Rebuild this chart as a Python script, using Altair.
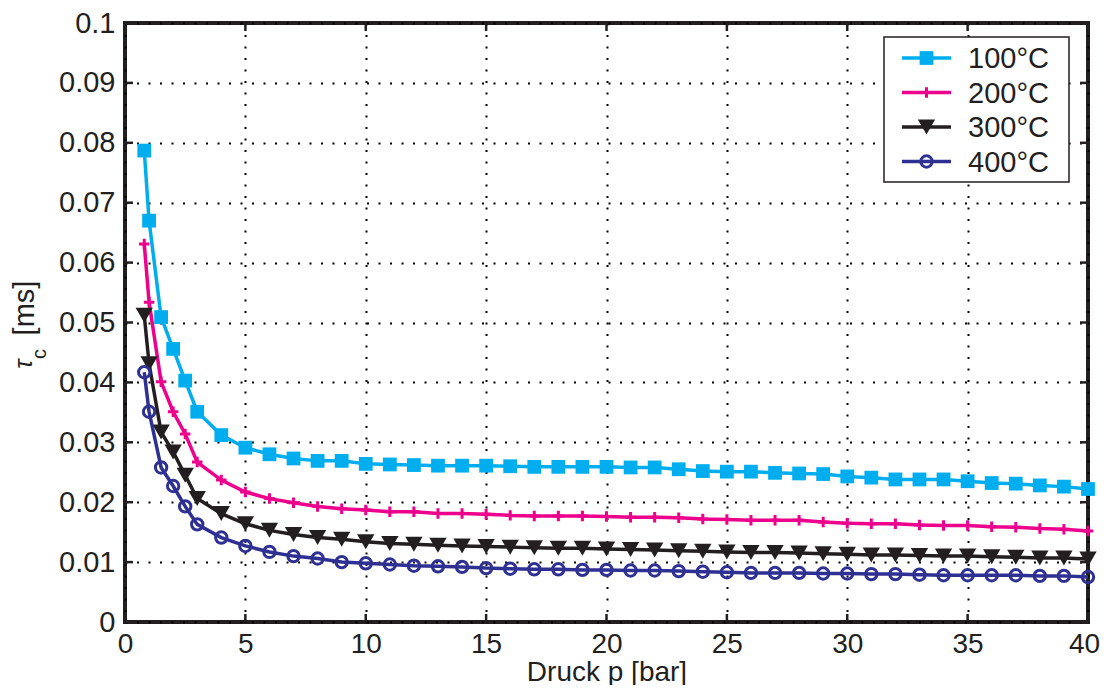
import altair as alt
import pandas as pd

# ---------------- data ----------------
pressure = [0.8, 1, 1.5, 2, 2.5, 3, 4, 5, 6, 7, 8, 9, 10, 11, 12, 13, 14, 15, 16, 17,
            18, 19, 20, 21, 22, 23, 24, 25, 26, 27, 28, 29, 30, 31, 32, 33, 34, 35,
            36, 37, 38, 39, 40]

tau_100 = [0.0787, 0.0670, 0.0509, 0.0456, 0.0403, 0.0351, 0.0312, 0.0291, 0.0280,
           0.0273, 0.0269, 0.0269, 0.0264, 0.0263, 0.0262, 0.0261, 0.0261, 0.0261,
           0.0260, 0.0259, 0.0259, 0.0259, 0.0259, 0.0258, 0.0258, 0.0255, 0.0252,
           0.0251, 0.0251, 0.0249, 0.0248, 0.0247, 0.0243, 0.0241, 0.0238, 0.0238,
           0.0238, 0.0235, 0.0232, 0.0231, 0.0228, 0.0226, 0.0222]

tau_200 = [0.0631, 0.0534, 0.0401, 0.0351, 0.0314, 0.0267, 0.0237, 0.0217, 0.0206,
           0.0199, 0.0193, 0.0189, 0.0187, 0.0184, 0.0184, 0.0181, 0.0181, 0.0180,
           0.0178, 0.0177, 0.0177, 0.0177, 0.0176, 0.0175, 0.0175, 0.0174, 0.0172,
           0.0171, 0.0170, 0.0170, 0.0170, 0.0167, 0.0165, 0.0164, 0.0164, 0.0162,
           0.0161, 0.0161, 0.0159, 0.0158, 0.0156, 0.0155, 0.0152]

tau_300 = [0.0512, 0.0431, 0.0317, 0.0284, 0.0245, 0.0206, 0.0181, 0.0164, 0.0153,
           0.0146, 0.0141, 0.0138, 0.0134, 0.0131, 0.0130, 0.0128, 0.0127, 0.0126,
           0.0125, 0.0124, 0.0123, 0.0123, 0.0122, 0.0121, 0.0120, 0.0119, 0.0118,
           0.0117, 0.0116, 0.0116, 0.0115, 0.0114, 0.0113, 0.0112, 0.0112, 0.0111,
           0.0110, 0.0110, 0.0109, 0.0108, 0.0107, 0.0107, 0.0105]

tau_400 = [0.0417, 0.0351, 0.0258, 0.0227, 0.0193, 0.0163, 0.0141, 0.0127, 0.0117,
           0.0110, 0.0106, 0.0100, 0.0098, 0.0096, 0.0094, 0.0093, 0.0092, 0.0090,
           0.0089, 0.0088, 0.0088, 0.0087, 0.0087, 0.0086, 0.0086, 0.0085, 0.0084,
           0.0083, 0.0082, 0.0082, 0.0082, 0.0081, 0.0081, 0.0080, 0.0080, 0.0079,
           0.0078, 0.0078, 0.0078, 0.0078, 0.0077, 0.0077, 0.0075]

series_labels = ["100°C", "200°C", "300°C", "400°C"]
series_values = [tau_100, tau_200, tau_300, tau_400]

x_ticks = [0, 5, 10, 15, 20, 25, 30, 35, 40]
y_ticks = [0, 0.01, 0.02, 0.03, 0.04, 0.05, 0.06, 0.07, 0.08, 0.09, 0.1]

# ---------------- styles ----------------
W, H = 963, 599
FONT = "Liberation Sans"
INK = "#231F20"
colors = ["#00AEEF", "#EC008C", "#231F20", "#2E3192"]
PLUS = "M-1,0H1M0,-1V1"
marker_styles = [
    dict(shape="square", filled=True, size=190, strokeWidth=1),
    dict(shape=PLUS, filled=False, size=110, strokeWidth=3),
    dict(shape="triangle-down", filled=True, size=300, strokeWidth=1),
    dict(shape="circle", filled=False, size=130, strokeWidth=3),
]

xscale = alt.Scale(domain=[0, 40], nice=False, zero=False)
yscale = alt.Scale(domain=[0, 0.1], nice=False, zero=False)

xaxis = alt.Axis(values=x_ticks, title="Druck p [bar]", grid=True, ticks=False,
                 domain=False, labelFontSize=28, labelPadding=8, titleFontSize=28,
                 titlePadding=0, titleFontWeight="normal", labelColor=INK,
                 titleColor=INK, labelFont=FONT, titleFont=FONT, labelFlush=False,
                 labelOffset={"condition": {"test": "datum.value === 40", "value": -4},
                              "value": 0})
yaxis = alt.Axis(values=y_ticks, format="~g", title=None, grid=True, ticks=False,
                 domain=False, labelFontSize=29, labelPadding=10, labelColor=INK,
                 labelFont=FONT, labelFlush=False)

layers = []
for lab, vals, col, ms in zip(series_labels, series_values, colors, marker_styles):
    d = pd.DataFrame({"p": pressure, "tau": vals, "T": lab})
    base = alt.Chart(d).encode(
        x=alt.X("p:Q", scale=xscale, axis=xaxis),
        y=alt.Y("tau:Q", scale=yscale, axis=yaxis),
    )
    layers.append(base.mark_line(color=col, strokeWidth=3.5))
    layers.append(base.mark_point(color=col, opacity=1, **ms))

# inward tick marks on all four sides
xt = pd.DataFrame({"p": x_ticks})
yt = pd.DataFrame({"tau": y_ticks})
TL = 8
tick_kw = dict(color=INK, strokeWidth=2.5)
layers.append(alt.Chart(xt).mark_rule(**tick_kw).encode(
    x=alt.X("p:Q", scale=xscale, axis=xaxis), y=alt.value(H - TL), y2=alt.value(H)))
layers.append(alt.Chart(xt).mark_rule(**tick_kw).encode(
    x=alt.X("p:Q", scale=xscale, axis=xaxis), y=alt.value(0), y2=alt.value(TL)))
layers.append(alt.Chart(yt).mark_rule(**tick_kw).encode(
    y=alt.Y("tau:Q", scale=yscale, axis=yaxis), x=alt.value(0), x2=alt.value(TL)))
layers.append(alt.Chart(yt).mark_rule(**tick_kw).encode(
    y=alt.Y("tau:Q", scale=yscale, axis=yaxis), x=alt.value(W - TL), x2=alt.value(W)))

one = pd.DataFrame({"a": [0]})

# y-axis title: tau with subscript c
layers.append(alt.Chart(one).mark_text(angle=270, fontSize=25, font=FONT, fontStyle="italic",
                                       align="center", baseline="alphabetic", color=INK).encode(
    x=alt.value(-93), y=alt.value(341), text=alt.value("τ")))
layers.append(alt.Chart(one).mark_text(angle=270, fontSize=20, font=FONT,
                                       align="center", baseline="alphabetic", color=INK).encode(
    x=alt.value(-79), y=alt.value(331), text=alt.value("c")))
layers.append(alt.Chart(one).mark_text(angle=270, fontSize=29, font=FONT,
                                       align="center", baseline="alphabetic", color=INK).encode(
    x=alt.value(-91), y=alt.value(285), text=alt.value("[ms]")))

# legend box
layers.append(alt.Chart(one).mark_rect(fill="white", stroke=INK, strokeWidth=1.5).encode(
    x=alt.value(759), x2=alt.value(944), y=alt.value(14), y2=alt.value(159)))
row_y = [35, 69.5, 104, 138.5]
for lab, col, ms, ry in zip(series_labels, colors, marker_styles, row_y):
    layers.append(alt.Chart(one).mark_rule(color=col, strokeWidth=3.5).encode(
        x=alt.value(777), x2=alt.value(826), y=alt.value(ry)))
    layers.append(alt.Chart(one).mark_point(color=col, opacity=1, **ms).encode(
        x=alt.value(801.5), y=alt.value(ry)))
    layers.append(alt.Chart(one).mark_text(align="left", baseline="middle", fontSize=29,
                                           font=FONT, color=INK).encode(
        x=alt.value(843), y=alt.value(ry + 1), text=alt.value(lab)))

chart = alt.layer(*layers).properties(
    width=W, height=H,
    autosize=alt.AutoSizeParams(type="none"),
    padding={"left": 117, "top": 15, "right": 13, "bottom": 63},
    background="white",
).configure_view(
    stroke=INK, strokeWidth=4,
).configure_axis(
    gridColor="black", gridDash=[2, 9.5], gridWidth=2, gridOpacity=1,
)

chart.save("out.html", embed_options={"renderer": "svg", "actions": False})
